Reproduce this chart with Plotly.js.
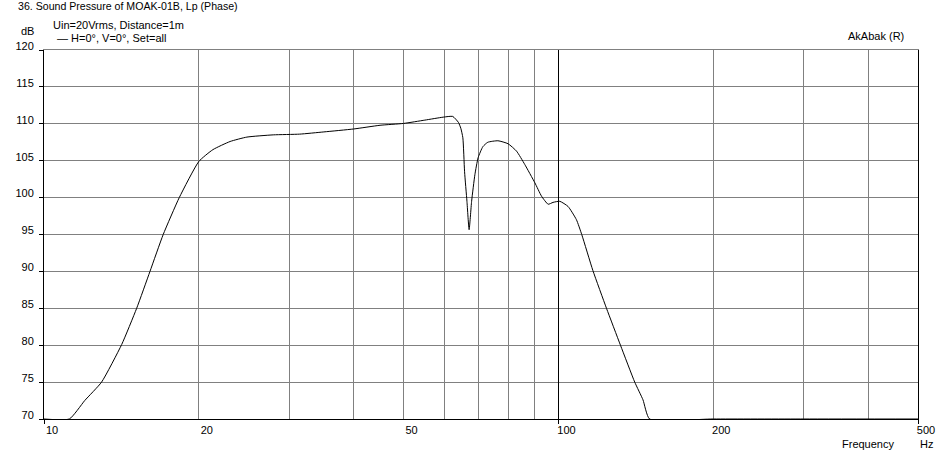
<!DOCTYPE html>
<html>
<head>
<meta charset="utf-8">
<script src="https://cdn.plot.ly/plotly-3.0.1.min.js"></script>
<style>html,body{margin:0;padding:0;background:#fff;}#chart{width:944px;height:456px;}</style>
</head>
<body>
<div id="chart"></div>
<script>
// Frequency (Hz) and sound pressure level (dB)
const freqHz = [10, 11.2, 12.0, 12.94, 14.16, 15.14, 16.07, 17.05, 18.32, 20.0, 21.3, 23.0, 24.8, 27.9, 31.4, 35, 40, 45, 50, 55, 59.7, 62.3, 63.9, 64.6, 65.2, 65.7, 66.4, 67.05, 67.8, 68.8, 69.8, 71.3, 72.9, 76.3, 79.8, 82.9, 86.0, 90, 92.7, 95.5, 97.6, 100.6, 104.4, 108.4, 111.0, 116.7, 124.0, 132.0, 140.7, 146, 150.4, 200, 300, 500];
const splDb  = [70, 70, 72.5, 75.0, 80.1, 85.0, 90.0, 95.0, 100.0, 104.9, 106.5, 107.6, 108.2, 108.5, 108.6, 108.9, 109.3, 109.8, 110.05, 110.5, 110.9, 111.0, 110.2, 109.4, 108.1, 103.5, 99.5, 95.65, 99.5, 103.1, 105.4, 106.9, 107.5, 107.7, 107.3, 106.3, 104.5, 102.0, 100.2, 99.1, 99.35, 99.5, 98.8, 97.0, 95.0, 90.1, 85.0, 80.0, 75.0, 72.6, 70, 70, 70, 70];

const seriesName = "H=0°, V=0°, Set=all";
const xGridVals = [10, 20, 30, 40, 50, 60, 70, 80, 90, 100, 200, 300, 400, 500];
const xTickText = ["10", "20", "", "", "50", "", "", "", "", "100", "200", "", "", "500"];
const xDecadeVals = [100];
const xTickMarkVals = [10, 100, 500];
const yTickVals = [70, 75, 80, 85, 90, 95, 100, 105, 110, 115, 120];
const yTickText = ["70", "75", "80", "85", "90", "95", "100", "105", "110", "115", "120"];

const font = {family: "Liberation Sans, Arial, sans-serif", size: 11, color: "#000"};

const traces = [
  {x: freqHz, y: splDb, type: "scatter", mode: "lines", name: seriesName,
   line: {color: "#000", width: 1, shape: "spline", smoothing: 0.5}, showlegend: false, hoverinfo: "x+y"},
  {x: [], y: [], xaxis: "x2", yaxis: "y", type: "scatter", mode: "lines", showlegend: false, hoverinfo: "skip"},
  {x: [], y: [], xaxis: "x3", yaxis: "y", type: "scatter", mode: "lines", showlegend: false, hoverinfo: "skip"}
];

const L = 44, T = 50, R = 26, B = 37, W = 944, H = 456;
const pw = W - L - R, ph = H - T - B;
const px = p => (p - L) / pw;
const py = p => (H - B - p) / ph;
const xRange = [1, Math.log10(500)];

const layout = {
  width: W, height: H,
  margin: {l: L, r: R, t: T, b: B, pad: 0},
  paper_bgcolor: "#fff", plot_bgcolor: "#fff",
  font: font,
  showlegend: false,
  title: {text: "36. Sound Pressure of MOAK-01B, Lp (Phase)", font: {family: font.family, size: 10.6, color: "#000"},
          x: 18 / W, xanchor: "left", xref: "container",
          y: 1 - 6.5 / H, yanchor: "middle", yref: "container"},
  xaxis: {type: "log", range: xRange, tickvals: xGridVals, ticktext: xTickText,
          showgrid: true, gridcolor: "#808080", gridwidth: 1, ticks: "", showline: true,
          linecolor: "#000", linewidth: 1, zeroline: false, ticklabelshift: 8, ticklabelstandoff: 1,
          tickfont: font, fixedrange: true},
  xaxis2: {type: "log", range: xRange, overlaying: "x", anchor: "y", side: "top",
           tickvals: xDecadeVals, showgrid: true, gridcolor: "#000", gridwidth: 1,
           showticklabels: false, ticks: "", showline: true, linecolor: "#808080", linewidth: 1, zeroline: false},
  xaxis3: {type: "log", range: xRange, overlaying: "x", anchor: "y", side: "bottom",
           tickvals: xTickMarkVals, showgrid: false, showticklabels: false,
           ticks: "outside", ticklen: 4, tickcolor: "#000", tickwidth: 1, showline: false, zeroline: false},
  yaxis: {range: [70, 120], tickvals: yTickVals, ticktext: yTickText, showgrid: true,
          gridcolor: "#808080", gridwidth: 1, ticks: "outside", ticklen: 4, tickcolor: "#000",
          showline: true, linecolor: "#000", linewidth: 1, mirror: true, zeroline: false,
          ticklabelshift: -4, ticklabelstandoff: 3, tickfont: font, fixedrange: true},
  annotations: [
    {text: "Uin=20Vrms, Distance=1m", xref: "paper", yref: "paper", x: px(52), y: py(25), xanchor: "left", yanchor: "middle", showarrow: false, font: font, borderpad: 0},
    {text: "dB", xref: "paper", yref: "paper", x: px(35), y: py(31), xanchor: "right", yanchor: "middle", showarrow: false, font: font, borderpad: 0},
    {text: "— " + seriesName, xref: "paper", yref: "paper", x: px(56), y: py(37.5), xanchor: "left", yanchor: "middle", showarrow: false, font: font, borderpad: 0},
    {text: "AkAbak (R)", xref: "paper", yref: "paper", x: px(847), y: py(36.5), xanchor: "left", yanchor: "middle", showarrow: false, font: font, borderpad: 0},
    {text: "Frequency", xref: "paper", yref: "paper", x: px(841), y: py(444), xanchor: "left", yanchor: "middle", showarrow: false, font: font, borderpad: 0},
    {text: "Hz", xref: "paper", yref: "paper", x: px(919), y: py(444), xanchor: "left", yanchor: "middle", showarrow: false, font: font, borderpad: 0}
  ]
};

Plotly.newPlot("chart", traces, layout, {displayModeBar: false, staticPlot: true});
</script>
</body>
</html>
